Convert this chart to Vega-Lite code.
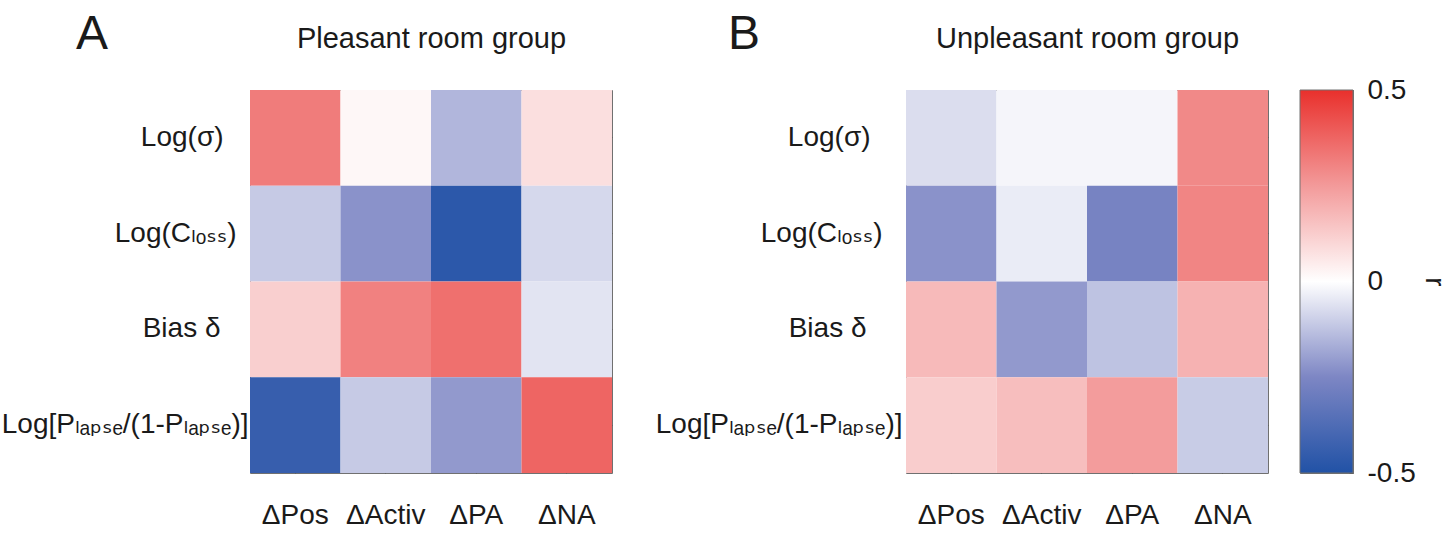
{
  "$schema": "https://vega.github.io/schema/vega-lite/v6.json",
  "background": "white",
  "padding": {"left": 0, "top": 10, "right": 5, "bottom": 2},
  "bounds": "flush",
  "spacing": 294,
  "config": {
    "font": "Liberation Sans",
    "view": {"stroke": "#707070", "strokeWidth": 1},
    "axis": {
      "labelFont": "Liberation Sans, DejaVu Sans, sans-serif",
      "labelFontSize": 28,
      "labelColor": "#1a1a1a",
      "tickColor": "#555555",
      "domain": false,
      "grid": false,
      "zindex": 1,
      "titleFont": "Liberation Sans",
      "titleFontWeight": "normal",
      "titleColor": "#1a1a1a"
    },
    "title": {"font": "Liberation Sans", "fontWeight": "normal", "color": "#1a1a1a"}
  },
  "datasets": {
    "cells": [
      {"group": "P", "param": "Log(σ)", "measure": "ΔPos", "r": 0.32},
      {"group": "P", "param": "Log(σ)", "measure": "ΔActiv", "r": 0.02},
      {"group": "P", "param": "Log(σ)", "measure": "ΔPA", "r": -0.15},
      {"group": "P", "param": "Log(σ)", "measure": "ΔNA", "r": 0.08},
      {"group": "P", "param": "Log(Cₗₒₛₛ)", "measure": "ΔPos", "r": -0.11},
      {"group": "P", "param": "Log(Cₗₒₛₛ)", "measure": "ΔActiv", "r": -0.225},
      {"group": "P", "param": "Log(Cₗₒₛₛ)", "measure": "ΔPA", "r": -0.47},
      {"group": "P", "param": "Log(Cₗₒₛₛ)", "measure": "ΔNA", "r": -0.08},
      {"group": "P", "param": "Bias δ", "measure": "ΔPos", "r": 0.12},
      {"group": "P", "param": "Bias δ", "measure": "ΔActiv", "r": 0.31},
      {"group": "P", "param": "Bias δ", "measure": "ΔPA", "r": 0.35},
      {"group": "P", "param": "Bias δ", "measure": "ΔNA", "r": -0.055},
      {"group": "P", "param": "Log[Pₗₐₚₛₑ/(1-Pₗₐₚₛₑ)]", "measure": "ΔPos", "r": -0.44},
      {"group": "P", "param": "Log[Pₗₐₚₛₑ/(1-Pₗₐₚₛₑ)]", "measure": "ΔActiv", "r": -0.11},
      {"group": "P", "param": "Log[Pₗₐₚₛₑ/(1-Pₗₐₚₛₑ)]", "measure": "ΔPA", "r": -0.21},
      {"group": "P", "param": "Log[Pₗₐₚₛₑ/(1-Pₗₐₚₛₑ)]", "measure": "ΔNA", "r": 0.375},
      {"group": "U", "param": "Log(σ)", "measure": "ΔPos", "r": -0.07},
      {"group": "U", "param": "Log(σ)", "measure": "ΔActiv", "r": -0.02},
      {"group": "U", "param": "Log(σ)", "measure": "ΔPA", "r": -0.02},
      {"group": "U", "param": "Log(σ)", "measure": "ΔNA", "r": 0.29},
      {"group": "U", "param": "Log(Cₗₒₛₛ)", "measure": "ΔPos", "r": -0.225},
      {"group": "U", "param": "Log(Cₗₒₛₛ)", "measure": "ΔActiv", "r": -0.04},
      {"group": "U", "param": "Log(Cₗₒₛₛ)", "measure": "ΔPA", "r": -0.265},
      {"group": "U", "param": "Log(Cₗₒₛₛ)", "measure": "ΔNA", "r": 0.30},
      {"group": "U", "param": "Bias δ", "measure": "ΔPos", "r": 0.17},
      {"group": "U", "param": "Bias δ", "measure": "ΔActiv", "r": -0.21},
      {"group": "U", "param": "Bias δ", "measure": "ΔPA", "r": -0.125},
      {"group": "U", "param": "Bias δ", "measure": "ΔNA", "r": 0.19},
      {"group": "U", "param": "Log[Pₗₐₚₛₑ/(1-Pₗₐₚₛₑ)]", "measure": "ΔPos", "r": 0.125},
      {"group": "U", "param": "Log[Pₗₐₚₛₑ/(1-Pₗₐₚₛₑ)]", "measure": "ΔActiv", "r": 0.16},
      {"group": "U", "param": "Log[Pₗₐₚₛₑ/(1-Pₗₐₚₛₑ)]", "measure": "ΔPA", "r": 0.245},
      {"group": "U", "param": "Log[Pₗₐₚₛₑ/(1-Pₗₐₚₛₑ)]", "measure": "ΔNA", "r": -0.105}
    ],
    "bar": [{"lo": -0.5, "hi": 0.5}]
  },
  "hconcat": [
    {
      "width": 362,
      "height": 383,
      "data": {"name": "cells"},
      "transform": [{"filter": "datum.group == 'P'"}],
      "title": {"text": "A", "anchor": "start", "frame": "group", "fontSize": 48, "baseline": "alphabetic", "offset": 0, "dx": -174, "dy": 72},
      "layer": [
        {
          "mark": {"type": "rect"},
          "encoding": {
            "x": {"field": "measure", "type": "nominal", "sort": ["ΔPos", "ΔActiv", "ΔPA", "ΔNA"], "scale": {"paddingInner": 0, "paddingOuter": 0},
                  "axis": {"orient": "bottom", "title": null, "labelAngle": 0, "tickSize": -6, "labelPadding": 34}},
            "y": {"field": "param", "type": "nominal", "sort": ["Log(σ)", "Log(Cₗₒₛₛ)", "Bias δ", "Log[Pₗₐₚₛₑ/(1-Pₗₐₚₛₑ)]"], "scale": {"paddingInner": 0, "paddingOuter": 0},
                  "axis": {"orient": "left", "title": null, "ticks": false, "labelLimit": 400,
                           "labelPadding": {"condition": [{"test": "datum.value == 'Log(σ)'", "value": 27}, {"test": "datum.value == 'Log(Cₗₒₛₛ)'", "value": 14}, {"test": "datum.value == 'Bias δ'", "value": 30}], "value": 2}}},
            "fill": {"field": "r", "type": "quantitative", "legend": null,
                     "scale": {"domain": [-0.5, -0.25, 0, 0.25, 0.5], "range": ["#2152a6", "#7d86c4", "#ffffff", "#f39a9a", "#e9302c"], "interpolate": "rgb"}}
          }
        },
        {
          "mark": {"type": "rect", "opacity": 0},
          "encoding": {
            "x": {"field": "measure", "type": "nominal", "sort": ["ΔPos", "ΔActiv", "ΔPA", "ΔNA"], "scale": {"paddingInner": 0, "paddingOuter": 0},
                  "axis": {"orient": "top", "labels": false, "tickSize": -6, "title": "Pleasant room group", "titleFontSize": 29, "titlePadding": 36}},
            "y": {"field": "param", "type": "nominal", "sort": ["Log(σ)", "Log(Cₗₒₛₛ)", "Bias δ", "Log[Pₗₐₚₛₑ/(1-Pₗₐₚₛₑ)]"], "scale": {"paddingInner": 0, "paddingOuter": 0},
                  "axis": {"orient": "right", "labels": false, "tickSize": -6, "title": null}}
          }
        }
      ],
      "resolve": {"axis": {"x": "independent", "y": "independent"}}
    },
    {
      "bounds": "flush",
      "spacing": 32,
      "hconcat": [
        {
          "width": 362,
          "height": 383,
          "data": {"name": "cells"},
          "transform": [{"filter": "datum.group == 'U'"}],
          "title": {"text": "B", "anchor": "start", "frame": "group", "fontSize": 48, "baseline": "alphabetic", "offset": 0, "dx": -178, "dy": 72},
          "layer": [
            {
              "mark": {"type": "rect"},
              "encoding": {
                "x": {"field": "measure", "type": "nominal", "sort": ["ΔPos", "ΔActiv", "ΔPA", "ΔNA"], "scale": {"paddingInner": 0, "paddingOuter": 0},
                      "axis": {"orient": "bottom", "title": null, "labelAngle": 0, "tickSize": -6, "labelPadding": 34}},
                "y": {"field": "param", "type": "nominal", "sort": ["Log(σ)", "Log(Cₗₒₛₛ)", "Bias δ", "Log[Pₗₐₚₛₑ/(1-Pₗₐₚₛₑ)]"], "scale": {"paddingInner": 0, "paddingOuter": 0},
                      "axis": {"orient": "left", "title": null, "ticks": false, "labelLimit": 400,
                               "labelPadding": {"condition": [{"test": "datum.value == 'Log(σ)'", "value": 36}, {"test": "datum.value == 'Log(Cₗₒₛₛ)'", "value": 24}, {"test": "datum.value == 'Bias δ'", "value": 40}], "value": 4}}},
                "fill": {"field": "r", "type": "quantitative", "legend": null,
                         "scale": {"domain": [-0.5, -0.25, 0, 0.25, 0.5], "range": ["#2152a6", "#7d86c4", "#ffffff", "#f39a9a", "#e9302c"], "interpolate": "rgb"}}
              }
            },
            {
              "mark": {"type": "rect", "opacity": 0},
              "encoding": {
                "x": {"field": "measure", "type": "nominal", "sort": ["ΔPos", "ΔActiv", "ΔPA", "ΔNA"], "scale": {"paddingInner": 0, "paddingOuter": 0},
                      "axis": {"orient": "top", "labels": false, "tickSize": -6, "title": "Unpleasant room group", "titleFontSize": 29, "titlePadding": 36}},
                "y": {"field": "param", "type": "nominal", "sort": ["Log(σ)", "Log(Cₗₒₛₛ)", "Bias δ", "Log[Pₗₐₚₛₑ/(1-Pₗₐₚₛₑ)]"], "scale": {"paddingInner": 0, "paddingOuter": 0},
                      "axis": {"orient": "right", "labels": false, "tickSize": -6, "title": null}}
              }
            }
          ],
          "resolve": {"axis": {"x": "independent", "y": "independent"}}
        },
        {
          "width": 53,
          "height": 383,
          "data": {"name": "bar"},
          "mark": {"type": "rect", "stroke": "#707070", "strokeWidth": 1, "fill": {"gradient": "linear", "x1": 0, "y1": 1, "x2": 0, "y2": 0,
                   "stops": [{"offset": 0, "color": "#2152a6"}, {"offset": 0.25, "color": "#7d86c4"}, {"offset": 0.5, "color": "#ffffff"}, {"offset": 0.75, "color": "#f39a9a"}, {"offset": 1, "color": "#e9302c"}]}},
          "encoding": {
            "y": {"field": "lo", "type": "quantitative", "scale": {"domain": [-0.5, 0.5], "nice": false, "zero": false},
                  "axis": {"orient": "right", "values": [-0.5, 0, 0.5], "tickSize": -4, "labelPadding": 18,
                           "labelExpr": "datum.value < 0 ? '-' + format(-datum.value, '~g') : format(datum.value, '~g')",
                           "title": "r", "titleAngle": 90, "titleFontSize": 28, "titlePadding": 4}},
            "y2": {"field": "hi"}
          }
        }
      ]
    }
  ]
}
